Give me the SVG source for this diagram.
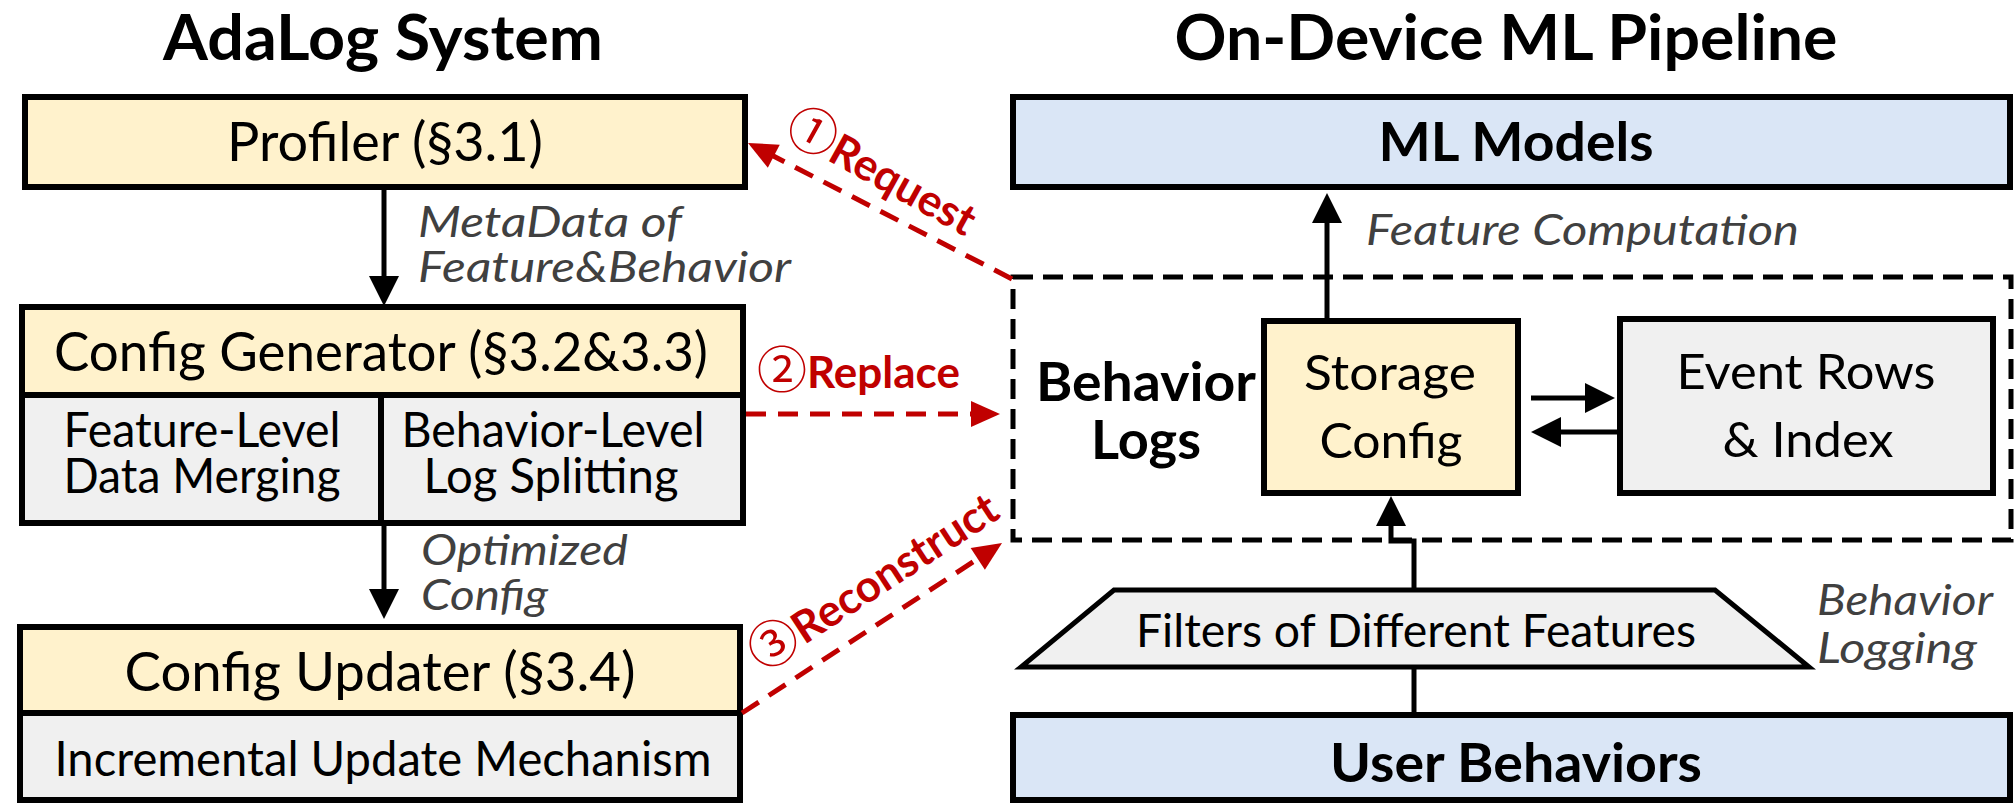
<svg xmlns="http://www.w3.org/2000/svg" width="2015" height="803" viewBox="0 0 2015 803">
  <style>
    .box { stroke: #000; stroke-width: 6; }
    .yel { fill: #FFF2CC; }
    .gry { fill: #F0F0F0; }
    .blu { fill: #DAE6F6; }
    text { font-family: Lato, "Noto Sans", "Noto Sans CJK SC", sans-serif; fill: #000; }
    .title { font-size: 63px; font-weight: bold; }
    .hd { font-size: 54px; }
    .sub { font-size: 48px; }
    .mid { font-size: 49px; }
    .bd { font-size: 53px; font-weight: bold; }
    .it { font-size: 42px; font-style: italic; fill: #404040; }
    .red { font-size: 44px; font-weight: bold; fill: #C00000; }
    .num { font-family: "Noto Sans CJK SC", "DejaVu Sans", sans-serif; font-size: 50px; font-weight: normal; }
    .conn { stroke: #000; stroke-width: 5; fill: none; }
    .rconn { stroke: #C00000; stroke-width: 5; fill: none; stroke-dasharray: 20 12; }
    .dash { stroke: #000; stroke-width: 5; fill: none; stroke-dasharray: 20 10; }
  </style>
  <defs>
    <marker id="hk" markerUnits="userSpaceOnUse" markerWidth="40" markerHeight="40" viewBox="-2 -20 40 40" refX="0" refY="0" orient="auto">
      <path d="M-1,-15 L29,0 L-1,15 z" fill="#000"/>
    </marker>
    <marker id="hr" markerUnits="userSpaceOnUse" markerWidth="40" markerHeight="40" viewBox="-2 -20 40 40" refX="0" refY="0" orient="auto">
      <path d="M-1,-13 L28,0 L-1,13 z" fill="#C00000"/>
    </marker>
  </defs>

  <!-- column headings -->
  <text class="title" x="383" y="60" text-anchor="middle" textLength="440" lengthAdjust="spacingAndGlyphs">AdaLog System</text>
  <text class="title" x="1506" y="60" text-anchor="middle" textLength="663" lengthAdjust="spacingAndGlyphs">On-Device ML Pipeline</text>

  <!-- left column: AdaLog components -->
  <g id="profiler">
    <rect class="box yel" x="25" y="97" width="720" height="90"/>
    <text class="hd" x="385" y="161" text-anchor="middle" textLength="316" lengthAdjust="spacingAndGlyphs">Profiler (§3.1)</text>
  </g>

  <g id="config-generator">
    <rect class="box gry" x="22" y="307" width="721" height="216"/>
    <rect class="yel" x="25" y="310" width="715" height="85"/>
    <line class="box" x1="22" y1="395" x2="743" y2="395"/>
    <line class="box" x1="381" y1="395" x2="381" y2="523"/>
    <text class="hd" x="381" y="371" text-anchor="middle" textLength="654" lengthAdjust="spacingAndGlyphs">Config Generator (§3.2&amp;3.3)</text>
    <text class="sub" x="202" y="447" text-anchor="middle" textLength="277" lengthAdjust="spacingAndGlyphs">Feature-Level</text>
    <text class="sub" x="202" y="493" text-anchor="middle" textLength="277" lengthAdjust="spacingAndGlyphs">Data Merging</text>
    <text class="sub" x="553" y="447" text-anchor="middle" textLength="303" lengthAdjust="spacingAndGlyphs">Behavior-Level</text>
    <text class="sub" x="551" y="493" text-anchor="middle" textLength="255" lengthAdjust="spacingAndGlyphs">Log Splitting</text>
  </g>

  <g id="config-updater">
    <rect class="box gry" x="20" y="627" width="720" height="173"/>
    <rect class="yel" x="23" y="630" width="714" height="83"/>
    <line class="box" x1="20" y1="713" x2="740" y2="713"/>
    <text class="hd" x="380" y="691" text-anchor="middle" textLength="511" lengthAdjust="spacingAndGlyphs">Config Updater (§3.4)</text>
    <text class="sub" x="383" y="776" text-anchor="middle" textLength="657" lengthAdjust="spacingAndGlyphs">Incremental Update Mechanism</text>
  </g>

  <!-- right column: on-device pipeline -->
  <g id="ml-models">
    <rect class="box blu" x="1013" y="97" width="997" height="90"/>
    <text class="bd" x="1516" y="161" text-anchor="middle" textLength="275" lengthAdjust="spacingAndGlyphs">ML Models</text>
  </g>

  <g id="behavior-logs">
    <rect class="dash" x="1013" y="277" width="998" height="263"/>
    <text class="bd" x="1146" y="401" text-anchor="middle" textLength="220" lengthAdjust="spacingAndGlyphs">Behavior</text>
    <text class="bd" x="1146" y="459" text-anchor="middle" textLength="110" lengthAdjust="spacingAndGlyphs">Logs</text>
  </g>

  <g id="storage-config">
    <rect class="box yel" x="1264" y="321" width="254" height="172"/>
    <text class="mid" x="1390" y="390" text-anchor="middle" textLength="172" lengthAdjust="spacingAndGlyphs">Storage</text>
    <text class="mid" x="1391" y="458" text-anchor="middle" textLength="143" lengthAdjust="spacingAndGlyphs">Config</text>
  </g>

  <g id="event-rows">
    <rect class="box gry" x="1620" y="319" width="373" height="174"/>
    <text class="mid" x="1806" y="389" text-anchor="middle" textLength="259" lengthAdjust="spacingAndGlyphs">Event Rows</text>
    <text class="mid" x="1808" y="457" text-anchor="middle" textLength="171" lengthAdjust="spacingAndGlyphs">&amp; Index</text>
  </g>

  <g id="filters">
    <polygon class="gry" points="1114,590 1715,590 1809,667 1021,667" stroke="#000" stroke-width="5" stroke-linejoin="miter"/>
    <text class="sub" x="1416" y="647" text-anchor="middle" textLength="560" lengthAdjust="spacingAndGlyphs" style="font-size:46px">Filters of Different Features</text>
  </g>

  <g id="user-behaviors">
    <rect class="box blu" x="1013" y="715" width="997" height="85"/>
    <text class="bd" x="1516" y="782" text-anchor="middle" textLength="372" lengthAdjust="spacingAndGlyphs">User Behaviors</text>
  </g>

  <!-- connectors and their labels -->
  <g id="connectors">
    <path class="conn" d="M384,190 L384,277" marker-end="url(#hk)"/>
    <path class="conn" d="M384,526 L384,590" marker-end="url(#hk)"/>
    <path class="conn" d="M1327,318 L1327,222" marker-end="url(#hk)"/>
    <path class="conn" d="M1531,398 L1586,398" marker-end="url(#hk)"/>
    <path class="conn" d="M1617,432 L1560,432" marker-end="url(#hk)"/>
    <path class="conn" d="M1414,590 L1414,541 L1391,541 L1391,525" marker-end="url(#hk)"/>
    <path class="conn" d="M1414,667 L1414,715"/>

    <path class="rconn" d="M1012,279 L772.9,155.8" marker-end="url(#hr)"/>
    <path class="rconn" d="M746,414 L972,414" marker-end="url(#hr)"/>
    <path class="rconn" d="M742,713 L978.6,558.3" marker-end="url(#hr)"/>

    <text class="it" x="418" y="237" textLength="264" lengthAdjust="spacingAndGlyphs">MetaData of</text>
    <text class="it" x="418" y="282" textLength="373" lengthAdjust="spacingAndGlyphs">Feature&amp;Behavior</text>
    <text class="it" x="421" y="565" textLength="207" lengthAdjust="spacingAndGlyphs">Optimized</text>
    <text class="it" x="421" y="610" textLength="127" lengthAdjust="spacingAndGlyphs">Config</text>
    <text class="it" x="1366" y="245" textLength="433" lengthAdjust="spacingAndGlyphs">Feature Computation</text>
    <text class="it" x="1817" y="615" textLength="176" lengthAdjust="spacingAndGlyphs">Behavior</text>
    <text class="it" x="1817" y="663" textLength="160" lengthAdjust="spacingAndGlyphs">Logging</text>

    <text class="red" transform="translate(881,173) rotate(29)" x="0" y="15" text-anchor="middle"><tspan class="num">①</tspan>Request</text>
    <text class="red" x="757" y="388"><tspan class="num">②</tspan>Replace</text>
    <text class="red" transform="translate(874,582) rotate(-33)" x="0" y="15" text-anchor="middle"><tspan class="num">③</tspan>Reconstruct</text>
  </g>
</svg>
